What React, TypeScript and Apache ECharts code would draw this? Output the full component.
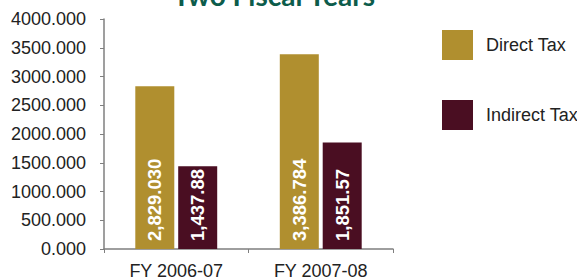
import React, { useEffect, useRef } from "react";
import * as echarts from "echarts";

const categories = ["FY 2006-07", "FY 2007-08"];
const directTax = [2829.03, 3386.784];
const indirectTax = [1437.88, 1851.57];
const directLabels = ["2,829.030", "3,386.784"];
const indirectLabels = ["1,437.88", "1,851.57"];
const titleText = "Two Fiscal Years";

export default function App() {
  const ref = useRef<HTMLDivElement>(null);
  useEffect(() => {
    if (!ref.current) return;
    const chart = echarts.init(ref.current, null, { renderer: "svg" });
    const font = "'Liberation Sans', Arial, sans-serif";
    const barLabel = (labels: string[]) => ({
      show: true,
      position: "insideBottom",
      rotate: 90,
      align: "left",
      verticalAlign: "middle",
      distance: 8,
      color: "#ffffff",
      fontWeight: "bold",
      fontSize: 18.5,
      fontFamily: font,
      formatter: (p: any) => labels[p.dataIndex],
    });
    chart.setOption({
      animation: false,
      backgroundColor: "#ffffff",
      graphic: [
        {
          type: "text",
          x: 274,
          y: -5,
          style: {
            text: titleText,
            fontSize: 28,
            fontWeight: "bold",
            fontFamily: "Lato, 'Open Sans', sans-serif",
            fill: "#0d5c4b",
            align: "center",
            verticalAlign: "middle",
          },
        },
      ],
      legend: {
        orient: "vertical",
        left: 437,
        top: 25,
        itemWidth: 31,
        itemHeight: 30,
        itemGap: 40,
        icon: "rect",
        textStyle: {
          fontSize: 18,
          fontFamily: font,
          color: "#222222",
          padding: [0, 0, 0, 8],
        },
        data: ["Direct Tax", "Indirect Tax"],
      },
      grid: { left: 104, right: 184, top: 19, bottom: 27, containLabel: false },
      xAxis: {
        type: "category",
        data: categories,
        axisLine: { lineStyle: { color: "#7f7f7f", width: 1.5 } },
        axisTick: { show: true, length: 4, lineStyle: { color: "#7f7f7f" } },
        axisLabel: { fontSize: 18, fontFamily: font, color: "#222222", margin: 13 },
      },
      yAxis: {
        type: "value",
        min: 0,
        max: 4000,
        interval: 500,
        splitLine: { show: false },
        axisLine: { show: true, lineStyle: { color: "#7f7f7f", width: 1.5 } },
        axisTick: { show: true, length: 4, lineStyle: { color: "#7f7f7f" } },
        axisLabel: {
          fontSize: 18,
          fontFamily: font,
          color: "#222222",
          margin: 18,
          formatter: (v: number) => v.toFixed(3),
        },
      },
      series: [
        {
          name: "Direct Tax",
          type: "bar",
          data: directTax,
          barWidth: 39,
          barGap: "10%",
          itemStyle: { color: "#b08f2f" },
          label: barLabel(directLabels),
        },
        {
          name: "Indirect Tax",
          type: "bar",
          data: indirectTax,
          barWidth: 39,
          itemStyle: { color: "#4a0e22" },
          label: barLabel(indirectLabels),
        },
      ],
    });
    return () => chart.dispose();
  }, []);
  return <div ref={ref} style={{ width: 577, height: 280, position: "absolute", left: 0, top: 0 }} />;
}
